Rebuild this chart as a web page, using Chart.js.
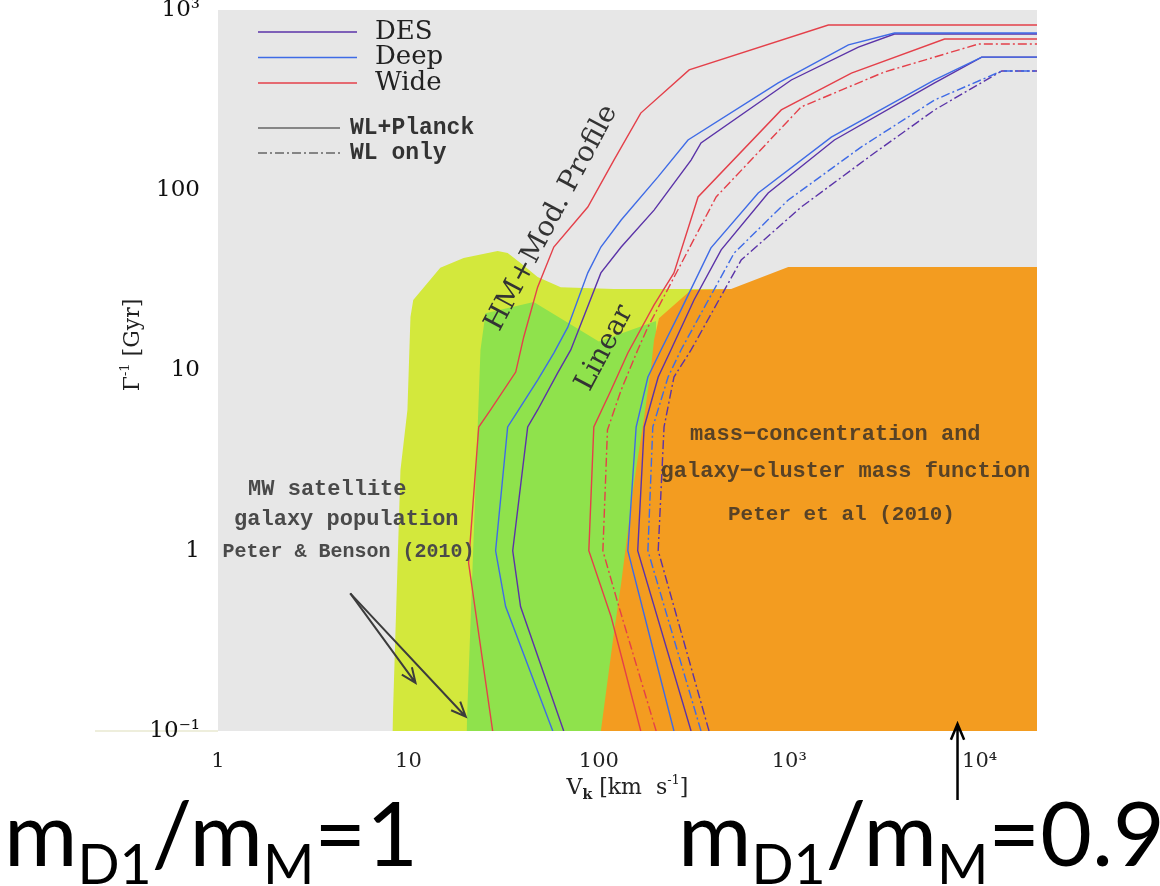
<!DOCTYPE html>
<html>
<head>
<meta charset="utf-8">
<script src="https://cdn.jsdelivr.net/npm/chart.js@4.4.0/dist/chart.umd.min.js"></script>
<style>
  html, body { margin: 0; padding: 0; background: #fff; }
  #canvasBox { position: relative; width: 1160px; height: 886px; }
</style>
</head>
<body>
<div id="canvasBox"><canvas id="myChart" width="1160" height="886"></canvas></div>
<script>
// axis ticks
const xTicks = [1, 10, 100, 1000, 10000];
const xTickLabels = ['1', '10', '100', '10³', '10⁴'];
const yTicks = [0.1, 1, 10, 100, 1000];
const yTickLabels = ['10⁻¹', '1', '10', '100', '10³'];

// excluded regions, [V_k, 1/Gamma]
const mwSatellite = [[8.24,0.1],[9.08,2.8],[9.88,6.04],[10.25,19.8],[10.6,24.6],[14.7,37.1],[19.5,42.1],[29.4,46.0],[33.2,44.9],[38.8,39.5],[47.7,33.0],[63.1,29.0],[120,28.3],[495,28.3],[20000,28.3]];
const greenRegion = [[20.2,0.1],[23.9,13.0],[25.4,20.8],[45.5,24.0],[100,14.5],[200,18.8]];
const clusterRegion = [[102.5,0.1],[120,0.35],[131,0.66],[153,2.38],[173,5.52],[188,10.4],[195,14.8],[207,19.5],[305,28.0],[495,28.3],[988,37.5],[20000,37.5]];

// HM + mod. profile forecasts (WL+Planck)
const wideHM = [[27.7,0.1],[20.7,0.855],[23.4,4.86],[27.0,6.04],[36.6,9.8],[40.3,15.3],[47.7,29.0],[58.0,48.4],[87.5,80.7],[120,147],[166,268],[298,465],[1604,826],[20000,826]];
const deepHM = [[57.3,0.1],[32.4,0.49],[28.7,1.0],[33.2,4.86],[37.9,6.04],[47.7,8.85],[58.0,12.5],[68.7,17.4],[87.5,34.8],[102.5,48.4],[131,68.4],[205,119],[294,190],[875,394],[2045,640],[3570,745],[20000,745]];
const desHM = [[65.4,0.1],[38.8,0.49],[35.3,1.0],[42.3,4.86],[47.7,6.04],[60.8,9.7],[71.2,13.0],[102.5,34.8],[131,48.4],[195,77.6],[305,147],[344,183],[1025,409],[2307,623],[3570,736],[20000,736]];

// linear forecasts
const wideLin = [[166,0.1],[116,0.43],[88.6,1.0],[94.1,4.86],[116,7.8],[142,12.5],[195,23.1],[248,34.8],[332,91.8],[908,279],[2120,447],[6540,690],[20000,690]];
const wideLinWL = [[200,0.1],[126,0.51],[105,1.0],[111,4.68],[131,7.8],[160,13.0],[181,17.4],[413,91.8],[1156,290],[3162,453],[9880,648],[20000,648]];
const deepLin = [[248,0.1],[142,1.0],[157,4.86],[181,9.2],[212,13.0],[270,21.7],[388,47.9],[687,96.6],[1663,197],[5800,409],[10250,548],[20000,548]];
const desLin = [[305,0.1],[160,1.0],[173,4.86],[205,9.2],[239,13.0],[316,24.6],[439,46.7],[775,96.6],[1726,190],[5800,394],[10250,548],[20000,548]];
const deepLinWL = [[344,0.1],[181,1.0],[192,4.86],[231,9.2],[270,13.0],[514,44.9],[988,88.3],[2393,174],[5800,317],[13060,459],[20000,459]];
const desLinWL = [[379,0.1],[205,1.0],[220,4.86],[248,9.2],[305,13.0],[559,41.0],[1156,80.7],[2800,161],[5800,279],[13060,459],[20000,459]];

const RED = '#e4404a', BLUE = '#3f6be6', PURPLE = '#5b33a8';
const DASHDOT = [9, 3, 2, 3];

const pts = a => a.map(p => ({x: p[0], y: p[1]}));

function region(data, color, order) {
  return { data: pts(data), showLine: true, fill: 'start', backgroundColor: color,
           borderWidth: 0, pointRadius: 0, tension: 0, order: order };
}
function curve(data, color, dash) {
  return { data: pts(data), showLine: true, fill: false, borderColor: color, borderWidth: 1.4,
           borderDash: dash || [], pointRadius: 0, tension: 0, order: 0 };
}

// rich text helpers (sub/superscripts)
function richWidth(ctx, parts) {
  let w = 0;
  parts.forEach(p => { ctx.font = p.font; w += ctx.measureText(p.t).width; });
  return w;
}
function drawRich(ctx, parts, x, y) {
  parts.forEach(p => {
    ctx.font = p.font;
    ctx.fillText(p.t, x, y + (p.dy || 0));
    x += ctx.measureText(p.t).width;
  });
}

function arrow(ctx, x0, y0, x1, y1, head) {
  const a = Math.atan2(y1 - y0, x1 - x0);
  ctx.beginPath();
  ctx.moveTo(x0, y0); ctx.lineTo(x1, y1);
  ctx.moveTo(x1 - head * Math.cos(a - 0.4), y1 - head * Math.sin(a - 0.4));
  ctx.lineTo(x1, y1);
  ctx.lineTo(x1 - head * Math.cos(a + 0.4), y1 - head * Math.sin(a + 0.4));
  ctx.stroke();
}

const MONO = '"Liberation Mono", monospace';
const SERIF = '"DejaVu Serif", serif';

const notes = [
  {t: 'MW satellite', x: 3.75, y: 2.2, font: 'bold 22px ' + MONO, color: '#4a4a4a'},
  {t: 'galaxy population', x: 4.72, y: 1.5, font: 'bold 22px ' + MONO, color: '#4a4a4a'},
  {t: 'Peter & Benson (2010)', x: 4.85, y: 0.99, font: 'bold 20px ' + MONO, color: '#4a4a4a'},
  {t: 'mass−concentration and', x: 1746, y: 4.39, font: 'bold 22px ' + MONO, color: 'rgba(60,50,40,0.85)'},
  {t: 'galaxy−cluster mass function', x: 1972, y: 2.75, font: 'bold 22px ' + MONO, color: 'rgba(60,50,40,0.85)'},
  {t: 'Peter et al (2010)', x: 1879, y: 1.58, font: 'bold 21px ' + MONO, color: 'rgba(60,50,40,0.85)'},
  {t: 'HM+Mod. Profile', x: 56.6, y: 70.2, font: '28px ' + SERIF, color: '#333', rot: -62},
  {t: 'Linear', x: 107.5, y: 13.3, font: '28px ' + SERIF, color: '#333', rot: -62}
];

const overlay = {
  id: 'overlay',
  beforeDraw(chart) {
    const {ctx, chartArea: a} = chart;
    ctx.save();
    ctx.fillStyle = '#e7e7e7';
    ctx.fillRect(a.left, a.top, a.right - a.left, a.bottom - a.top);
    // faint baseline left of the plot
    ctx.strokeStyle = '#eeeedc'; ctx.lineWidth = 2;
    ctx.beginPath(); ctx.moveTo(95, a.bottom); ctx.lineTo(a.left, a.bottom); ctx.stroke();
    ctx.restore();
  },
  afterDatasetsDraw(chart) {
    const {ctx, chartArea: a, scales} = chart;
    const X = v => scales.x.getPixelForValue(v), Y = v => scales.y.getPixelForValue(v);
    ctx.save();
    ctx.textBaseline = 'middle';

    // legend
    const lx = a.left + 40;
    [['DES', PURPLE], ['Deep', BLUE], ['Wide', RED]].forEach((e, i) => {
      const y = a.top + 22 + i * 25.5;
      ctx.strokeStyle = e[1]; ctx.lineWidth = 1.5; ctx.setLineDash([]);
      ctx.beginPath(); ctx.moveTo(lx, y); ctx.lineTo(lx + 99, y); ctx.stroke();
      ctx.fillStyle = '#222'; ctx.font = '26px ' + SERIF; ctx.textAlign = 'left';
      ctx.fillText(e[0], lx + 117, y);
    });
    [['WL+Planck', []], ['WL only', DASHDOT]].forEach((e, i) => {
      const y = a.top + 118 + i * 25;
      ctx.strokeStyle = '#666'; ctx.lineWidth = 1.5; ctx.setLineDash(e[1]);
      ctx.beginPath(); ctx.moveTo(lx, y); ctx.lineTo(lx + 82, y); ctx.stroke();
      ctx.setLineDash([]);
      ctx.fillStyle = '#333'; ctx.font = 'bold 23px ' + MONO;
      ctx.fillText(e[0], lx + 92, y);
    });

    // notes
    notes.forEach(n => {
      ctx.save();
      ctx.translate(X(n.x), Y(n.y));
      if (n.rot) ctx.rotate(n.rot * Math.PI / 180);
      ctx.fillStyle = n.color; ctx.font = n.font; ctx.textAlign = 'center';
      ctx.fillText(n.t, 0, 0);
      ctx.restore();
    });

    // arrows to MW region
    ctx.strokeStyle = '#3c3c3c'; ctx.lineWidth = 2;
    arrow(ctx, X(4.95), Y(0.58), X(10.9), Y(0.185), 16);
    arrow(ctx, X(4.95), Y(0.58), X(20), Y(0.12), 16);
    ctx.restore();
  },
  afterDraw(chart) {
    const {ctx, chartArea: a, scales} = chart;
    ctx.save();
    ctx.fillStyle = '#222';
    ctx.textBaseline = 'alphabetic';

    // x title
    const xt = [
      {t: 'V', font: '22px ' + SERIF},
      {t: 'k', font: 'bold 14px ' + SERIF, dy: 5},
      {t: ' [km  s', font: '22px ' + SERIF},
      {t: '-1', font: '13px ' + SERIF, dy: -10},
      {t: ']', font: '22px ' + SERIF}
    ];
    drawRich(ctx, xt, (a.left + a.right) / 2 - richWidth(ctx, xt) / 2, 794);

    // y title
    const yt = [
      {t: 'Γ', font: '22px ' + SERIF},
      {t: '-1', font: '13px ' + SERIF, dy: -10},
      {t: ' [Gyr]', font: '22px ' + SERIF}
    ];
    ctx.translate(131, 345);
    ctx.rotate(-Math.PI / 2);
    drawRich(ctx, yt, -richWidth(ctx, yt) / 2, 8);
    ctx.setTransform(1, 0, 0, 1, 0, 0);

    // vertical arrow at 10^4
    ctx.strokeStyle = '#000'; ctx.lineWidth = 2.5;
    const ax = scales.x.getPixelForValue(7650);
    arrow(ctx, ax, 800, ax, a.bottom - 7, 17);

    // big ratio labels
    const ratio = (val, S) => [
      {t: 'm', font: S + 'px Lato'},
      {t: 'D1', font: (S * 0.62) + 'px Lato', dy: S * 0.2},
      {t: '/m', font: S + 'px Lato'},
      {t: 'M', font: (S * 0.62) + 'px Lato', dy: S * 0.2},
      {t: '=' + val, font: S + 'px Lato'}
    ];
    const S = 100 * 414 / richWidth(ctx, ratio('1', 100));
    ctx.fillStyle = '#000';
    drawRich(ctx, ratio('1', S), 4, 866);
    drawRich(ctx, ratio('0.9', S), 678, 866);
    ctx.restore();
  }
};

new Chart(document.getElementById('myChart'), {
  type: 'scatter',
  data: {
    datasets: [
      region(mwSatellite, '#d3e83c', 30),
      region(greenRegion, '#8fe24c', 20),
      region(clusterRegion, '#f39c20', 10),
      curve(wideHM, RED), curve(deepHM, BLUE), curve(desHM, PURPLE),
      curve(wideLin, RED), curve(wideLinWL, RED, DASHDOT),
      curve(deepLin, BLUE), curve(desLin, PURPLE),
      curve(deepLinWL, BLUE, DASHDOT), curve(desLinWL, PURPLE, DASHDOT)
    ]
  },
  options: {
    responsive: false,
    animation: false,
    events: [],
    layout: { padding: { left: 0, right: 123, top: 10, bottom: 0 } },
    plugins: { legend: { display: false }, tooltip: { enabled: false } },
    scales: {
      x: {
        type: 'logarithmic', min: 1, max: 20000,
        grid: { display: false }, border: { display: false },
        afterBuildTicks: s => { s.ticks = xTicks.map(v => ({value: v})); },
        afterFit: s => { s.height = 155; s.paddingLeft = 0; s.paddingRight = 0; },
        ticks: { callback: (v, i) => xTickLabels[i], autoSkip: false, maxRotation: 0,
                 padding: 10, color: '#222', font: { family: 'DejaVu Serif', size: 21 } }
      },
      y: {
        type: 'logarithmic', min: 0.1, max: 1000,
        grid: { display: false }, border: { display: false },
        afterBuildTicks: s => { s.ticks = yTicks.map(v => ({value: v})); },
        afterFit: s => { s.width = 218; s.paddingTop = 0; s.paddingBottom = 0; },
        ticks: { callback: (v, i) => yTickLabels[i], autoSkip: false,
                 padding: 10, color: '#111', font: { family: 'DejaVu Serif', size: 23 } }
      }
    }
  },
  plugins: [overlay]
});
</script>
</body>
</html>
